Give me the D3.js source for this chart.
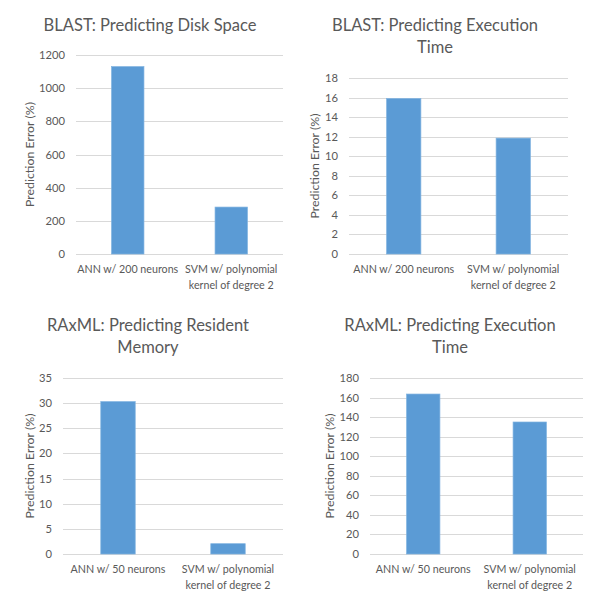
<!DOCTYPE html>
<html><head><meta charset="utf-8">
<script src="https://cdn.jsdelivr.net/npm/d3@7"></script>
<style>body{margin:0;background:#fff;} text{font-family:Lato, "Open Sans", sans-serif;}</style>
</head><body>
<svg id="c" width="600" height="600"></svg>
<script>
const titleBlastDisk = ["BLAST: Predicting Disk Space"];
const titleBlastExec = ["BLAST: Predicting Execution", "Time"];
const titleRaxmlMem = ["RAxML: Predicting Resident", "Memory"];
const titleRaxmlExec = ["RAxML: Predicting Execution", "Time"];
const categoriesBlast = ["ANN w/ 200 neurons", "SVM w/ polynomial kernel of degree 2"];
const categoriesRaxml = ["ANN w/ 50 neurons", "SVM w/ polynomial kernel of degree 2"];
const labelLinesBlast = [["ANN w/ 200 neurons"], ["SVM w/ polynomial", "kernel of degree 2"]];
const labelLinesRaxml = [["ANN w/ 50 neurons"], ["SVM w/ polynomial", "kernel of degree 2"]];
const valuesBlastDisk = [1130, 283];
const valuesBlastExec = [15.9, 11.85];
const valuesRaxmlMem = [30.3, 2.05];
const valuesRaxmlExec = [163.6, 135];
const ticksBlastDisk = [0, 200, 400, 600, 800, 1000, 1200];
const ticksBlastExec = [0, 2, 4, 6, 8, 10, 12, 14, 16, 18];
const ticksRaxmlMem = [0, 5, 10, 15, 20, 25, 30, 35];
const ticksRaxmlExec = [0, 20, 40, 60, 80, 100, 120, 140, 160, 180];
const yTitle = "Prediction Error (%)";

const svg = d3.select("#c");

// choose font sizes so that the installed font spans the widths seen in the reference
function fitSize(str, targetWidth) {
  const t = svg.append("text").attr("font-size", 100).text(str);
  const w = t.node().getComputedTextLength();
  t.remove();
  return 100 * targetWidth / w;
}
const titleSize = fitSize("BLAST: Predicting Disk Space", 213);
const catSize = fitSize("ANN w/ 200 neurons", 101);
const ySize = fitSize(yTitle, 105);
const tickSize = fitSize("1200", 26);

const panels = [
  {title: titleBlastDisk, cats: categoriesBlast, lines: labelLinesBlast, vals: valuesBlastDisk, ticks: ticksBlastDisk,
   x0: 76, x1: 283, yTop: 55, yBot: 254, titleX: 150, titleY: 31, ylabX: 30},
  {title: titleBlastExec, cats: categoriesBlast, lines: labelLinesBlast, vals: valuesBlastExec, ticks: ticksBlastExec,
   x0: 349, x1: 568, yTop: 78, yBot: 254, titleX: 435, titleY: 31, ylabX: 315},
  {title: titleRaxmlMem, cats: categoriesRaxml, lines: labelLinesRaxml, vals: valuesRaxmlMem, ticks: ticksRaxmlMem,
   x0: 63, x1: 283, yTop: 378, yBot: 554, titleX: 148, titleY: 331, ylabX: 30},
  {title: titleRaxmlExec, cats: categoriesRaxml, lines: labelLinesRaxml, vals: valuesRaxmlExec, ticks: ticksRaxmlExec,
   x0: 370, x1: 583, yTop: 378, yBot: 554, titleX: 450, titleY: 331, ylabX: 330}
];

panels.forEach(p => {
  const g = svg.append("g");
  const x = d3.scaleBand().domain(p.cats).range([p.x0, p.x1]).paddingInner(0.687).paddingOuter(0.3435);
  const y = d3.scaleLinear().domain([0, d3.max(p.ticks)]).range([p.yBot, p.yTop]);
  g.selectAll("line.grid").data(p.ticks).join("line")
    .attr("x1", p.x0).attr("x2", p.x1)
    .attr("y1", d => Math.round(y(d)) + 0.5).attr("y2", d => Math.round(y(d)) + 0.5)
    .attr("stroke", "#d9d9d9").attr("stroke-width", 1);
  g.selectAll("text.tick").data(p.ticks).join("text")
    .attr("x", p.x0 - 11).attr("y", d => y(d)).attr("dy", "0.36em")
    .attr("text-anchor", "end").attr("font-size", tickSize).attr("fill", "#595959")
    .text(d => d);
  g.selectAll("rect.bar").data(p.vals).join("rect")
    .attr("x", (d, i) => x(p.cats[i])).attr("width", x.bandwidth())
    .attr("y", d => y(d)).attr("height", d => p.yBot - y(d))
    .attr("fill", "#5b9bd5").attr("stroke", "#7fb2e0").attr("stroke-width", 0.7);
  p.lines.forEach((ls, i) => {
    const cx = x(p.cats[i]) + x.bandwidth() / 2;
    ls.forEach((t, j) => {
      g.append("text").attr("x", cx).attr("y", p.yBot + 15 + j * 16).attr("dy", "0.36em")
        .attr("text-anchor", "middle").attr("font-size", catSize).attr("fill", "#595959").text(t);
    });
  });
  p.title.forEach((t, j) => {
    g.append("text").attr("x", p.titleX).attr("y", p.titleY + j * 22)
      .attr("text-anchor", "middle").attr("font-size", titleSize).attr("fill", "#595959").text(t);
  });
  const cy = (p.yTop + p.yBot) / 2;
  g.append("text").attr("transform", `translate(${p.ylabX},${cy}) rotate(-90)`)
    .attr("text-anchor", "middle").attr("dy", "0.35em").attr("font-size", ySize).attr("fill", "#595959").text(yTitle);
});
</script>
</body></html>
